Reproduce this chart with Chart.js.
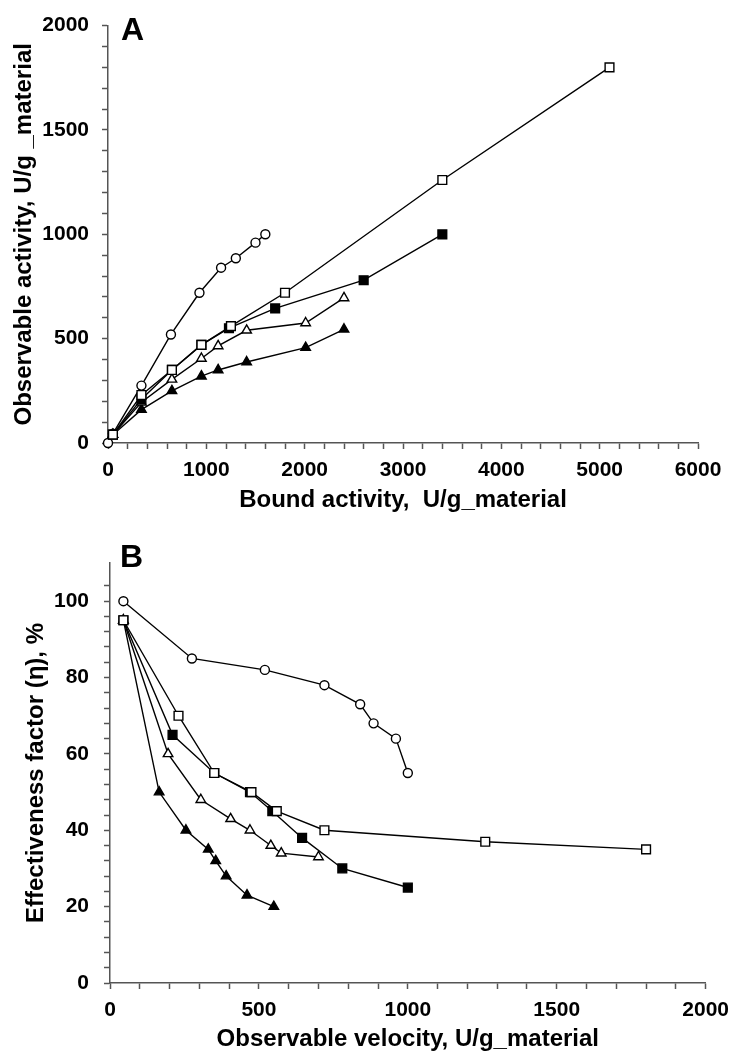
<!DOCTYPE html>
<html>
<head>
<meta charset="utf-8">
<script src="https://cdn.jsdelivr.net/npm/chart.js@4.4.1/dist/chart.umd.min.js"></script>
<style>
  body { margin: 0; background: #fff; }
  #wrap { position: relative; width: 738px; height: 1055px; }
  canvas { position: absolute; left: 0; }
  #chartA { top: 0; }
  #chartB { top: 527px; }
</style>
</head>
<body>
<div id="wrap">
  <canvas id="chartA" width="738" height="527"></canvas>
  <canvas id="chartB" width="738" height="528"></canvas>
</div>
<script>
// Panel A: observable activity vs bound activity (U/g_material)
const circleBound = [0, 50, 340, 640, 930, 1150, 1300, 1500, 1600];
const circleObs = [0, 45, 275, 520, 720, 840, 885, 960, 1000];
const openSqBound = [50, 340, 650, 950, 1250, 1800, 3400, 5100];
const openSqObs = [40, 230, 350, 470, 560, 720, 1260, 1800];
const fillSqBound = [50, 340, 650, 950, 1230, 1700, 2600, 3400];
const fillSqObs = [40, 210, 350, 470, 550, 645, 780, 1000];
const openTriBound = [50, 340, 650, 950, 1120, 1410, 2010, 2400];
const openTriObs = [40, 195, 305, 405, 465, 540, 575, 695];
const fillTriBound = [50, 340, 650, 950, 1120, 1410, 2010, 2400];
const fillTriObs = [40, 160, 250, 320, 350, 388, 457, 545];

// Panel B: effectiveness factor (%) vs observable velocity
const circleVel = [45, 275, 520, 720, 840, 885, 960, 1000];
const circleEta = [100, 85, 82, 78, 73, 68, 64, 55];
const openSqVel = [45, 230, 350, 475, 560, 720, 1260, 1800];
const openSqEta = [95, 70, 55, 50, 45, 40, 37, 35];
const fillSqVel = [45, 210, 350, 470, 545, 645, 780, 1000];
const fillSqEta = [95, 65, 55, 50, 45, 38, 30, 25];
const openTriVel = [45, 195, 305, 405, 470, 540, 575, 700];
const openTriEta = [95, 60, 48, 43, 40, 36, 34, 33];
const fillTriVel = [45, 165, 255, 330, 355, 390, 460, 550];
const fillTriEta = [95, 50, 40, 35, 32, 28, 23, 20];

// axis ticks (labelled values)
const ticksA_x = [0, 1000, 2000, 3000, 4000, 5000, 6000];
const ticksA_y = [0, 500, 1000, 1500, 2000];
const ticksB_x = [0, 500, 1000, 1500, 2000];
const ticksB_y = [0, 20, 40, 60, 80, 100];

const FONT = '"Liberation Sans", Arial, sans-serif';
const AXIS_COLOR = '#555';

function toPoints(xs, ys) {
    return xs.map((x, i) => ({ x: x, y: ys[i] }));
}

// marker styles for the five series
function series(data, style, filled) {
    const sizes = { circle: 4.5, rect: 6.2, triangle: 5.5 };
    return {
        data: data,
        showLine: true,
        clip: false,
        borderColor: '#000',
        borderWidth: 1.4,
        pointStyle: style,
        pointRadius: sizes[style],
        pointBorderWidth: 1.4,
        pointBorderColor: '#000',
        pointBackgroundColor: filled ? '#000' : '#fff',
        tension: 0
    };
}

// panel letter (A / B) drawn in the corner of the plot
const letterPlugin = {
    id: 'panelLetter',
    afterDraw(chart, args, opts) {
        const ctx = chart.ctx;
        ctx.save();
        ctx.font = 'bold 32px ' + FONT;
        ctx.fillStyle = '#000';
        ctx.textBaseline = 'alphabetic';
        ctx.fillText(opts.text, opts.x, opts.y);
        ctx.restore();
    }
};

function axis(opts) {
    return {
        type: 'linear',
        min: opts.min,
        max: opts.max,
        afterFit: opts.fit,
        afterBuildTicks: (scale) => {
            scale.ticks = scale.ticks.filter(t => t.value <= opts.lastTick);
        },
        border: { display: true, color: AXIS_COLOR, width: 1.5 },
        grid: {
            drawOnChartArea: false,
            drawTicks: true,
            tickLength: 6,
            tickColor: AXIS_COLOR,
            tickWidth: 1.5
        },
        ticks: {
            stepSize: opts.step,
            autoSkip: false,
            maxRotation: 0,
            padding: opts.pad,
            color: '#000',
            font: { family: FONT, size: 21, weight: 'bold' },
            callback: (v) => opts.labels.includes(v) ? String(v) : ''
        },
        title: {
            display: true,
            text: opts.title,
            color: '#000',
            font: { family: FONT, size: 24, weight: 'bold' },
            padding: opts.titlePad
        }
    };
}

new Chart(document.getElementById('chartA'), {
    type: 'scatter',
    data: {
        datasets: [
            series(toPoints(openSqBound, openSqObs), 'rect', false),
            series(toPoints(fillSqBound, fillSqObs), 'rect', true),
            series(toPoints(openTriBound, openTriObs), 'triangle', false),
            series(toPoints(fillTriBound, fillTriObs), 'triangle', true),
            series(toPoints(circleBound, circleObs), 'circle', false)
        ]
    },
    options: {
        responsive: false,
        animation: false,
        devicePixelRatio: 1,
        layout: { padding: { top: 24, right: 40, left: 0, bottom: 0 } },
        plugins: {
            legend: { display: false },
            tooltip: { enabled: false },
            panelLetter: { text: 'A', x: 121, y: 40 }
        },
        scales: {
            x: axis({
                min: 0, max: 6000, step: 200, lastTick: 6000, labels: ticksA_x, pad: 9,
                title: 'Bound activity,  U/g_material', titlePad: { top: 0, bottom: 12 },
                fit: (s) => { s.height = 84; }
            }),
            y: axis({
                min: 0, max: 2000, step: 100, lastTick: 2000, labels: ticksA_y, pad: 13,
                title: 'Observable activity, U/g _material', titlePad: { top: 10, bottom: 0 },
                fit: (s) => { s.width = 108; }
            })
        }
    },
    plugins: [letterPlugin]
});

new Chart(document.getElementById('chartB'), {
    type: 'scatter',
    data: {
        datasets: [
            series(toPoints(openSqVel, openSqEta), 'rect', false),
            series(toPoints(fillSqVel, fillSqEta), 'rect', true),
            series(toPoints(openTriVel, openTriEta), 'triangle', false),
            series(toPoints(fillTriVel, fillTriEta), 'triangle', true),
            series(toPoints(circleVel, circleEta), 'circle', false)
        ]
    },
    options: {
        responsive: false,
        animation: false,
        devicePixelRatio: 1,
        layout: { padding: { top: 36, right: 27, left: 0, bottom: 0 } },
        plugins: {
            legend: { display: false },
            tooltip: { enabled: false },
            panelLetter: { text: 'B', x: 120, y: 40 }
        },
        scales: {
            x: axis({
                min: 0, max: 2000, step: 100, lastTick: 2000, labels: ticksB_x, pad: 9,
                title: 'Observable velocity, U/g_material', titlePad: { top: 0, bottom: 1 },
                fit: (s) => { s.height = 72; }
            }),
            y: axis({
                min: 0, max: 110, step: 4, lastTick: 108, labels: ticksB_y, pad: 15,
                title: 'Effectiveness factor (η), %', titlePad: { top: 22, bottom: 0 },
                fit: (s) => { s.width = 110; }
            })
        }
    },
    plugins: [letterPlugin]
});
</script>
</body>
</html>
